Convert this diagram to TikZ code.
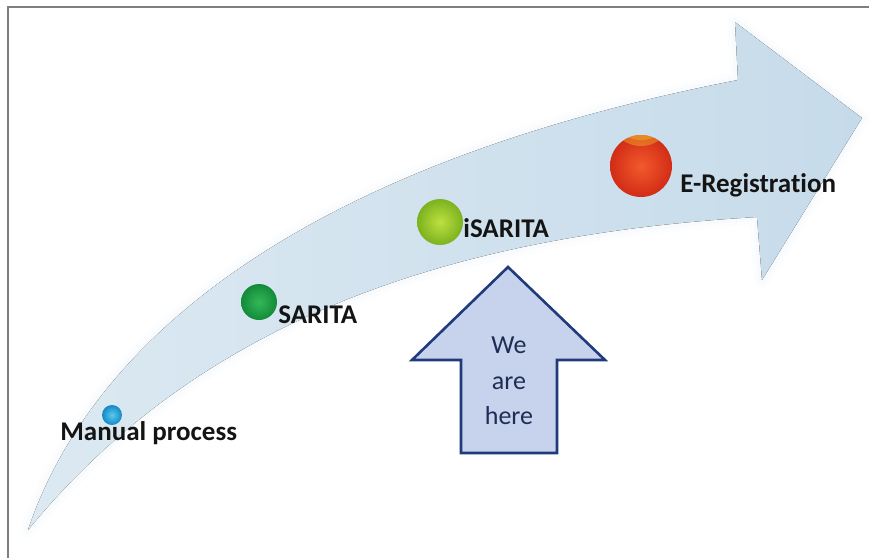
\documentclass[tikz,border=0pt]{standalone}
\usepackage{fontspec}
\setmainfont{Carlito}[Ligatures=NoCommon]
\usepackage{xcolor}
\usetikzlibrary{positioning}
\definecolor{band}{HTML}{C6DBEA}
\definecolor{bandpale}{HTML}{DCE9F2}
\definecolor{framegray}{HTML}{7F7F7F}
\definecolor{navy}{HTML}{213A7C}
\definecolor{navytext}{HTML}{1F2C55}
\definecolor{herefill}{HTML}{C7D2EC}
\definecolor{ink}{HTML}{141414}
\definecolor{blueA}{HTML}{5CC8F2}
\definecolor{blueB}{HTML}{138AC4}
\definecolor{greenA}{HTML}{34B857}
\definecolor{greenB}{HTML}{128A3A}
\definecolor{limeA}{HTML}{BDE040}
\definecolor{limeB}{HTML}{7CB21F}
\definecolor{redA}{HTML}{F25A2C}
\definecolor{redB}{HTML}{D22C16}
\definecolor{redcap}{HTML}{F2B12E}
\tikzset{
  framerule/.style={draw=framegray,line width=0.8pt},
  bandarrow/.style={left color=bandpale,right color=band,
                    preaction={draw=band!55,line width=8pt,opacity=0.10,line join=round},
                    preaction={draw=band!55,line width=4pt,opacity=0.15,line join=round}},
  stagedot/.style={circle,inner sep=0pt},
  stagelabel/.style={anchor=base west,inner sep=0pt,text=ink,
                     font=\fontsize{13.5}{16}\selectfont\bfseries},
  herearrow/.style={draw=navy,fill=herefill,line width=1.3pt,line join=miter},
  herelabel/.style={align=center,inner sep=0pt,text=navytext,
                    font=\fontsize{13}{17.75}\selectfont}
}

\begin{document}
\begin{tikzpicture}[x=0.5pt,y=-0.5pt]
  \useasboundingbox (0,0) rectangle (869,558);
  \draw[framerule] (8,558) -- (8,7) -- (869,7);

  % curved progress arrow
  \fill[bandarrow] (28,530) .. controls (80,375) and (250,175) .. (738,80)
    -- (735,22) -- (862,118) -- (762,280) -- (757,217)
    .. controls (450,235) and (200,320) .. (28,530) -- cycle;

  % stages along the arrow
  \node[stagedot,minimum size=10pt,inner color=blueA,outer color=blueB] (dotmanual) at (112,415) {};
  \node[stagedot,minimum size=18pt,inner color=greenA,outer color=greenB] (dotsarita) at (259,302) {};
  \node[stagedot,minimum size=23pt,inner color=limeA,outer color=limeB] (dotisarita) at (440,222) {};
  \node[stagedot,minimum size=31pt,inner color=redA,outer color=redB] (dotereg) at (641,166) {};
  \begin{scope}
    \clip (641,166) circle[radius=31];
    \fill[redcap,opacity=0.45] (641,114) circle[radius=32];
    \fill[redcap,opacity=0.45] (641,108) circle[radius=32];
  \end{scope}

  \node[stagelabel] (manual) at (60,440) {Manual process};
  \node[stagelabel] (sarita) at (278,323) {SARITA};
  \node[stagelabel] (isarita) at (463,237) {iSARITA};
  \node[stagelabel] (ereg) at (680,192) {E-Registration};

  % current position marker
  \draw[herearrow] (508,267) -- (605,360) -- (557,360) -- (557,453)
    -- (461,453) -- (461,360) -- (412,360) -- cycle;
  \node[herelabel] (here) at (509,381) {We\\are\\here};
\end{tikzpicture}
\end{document}
